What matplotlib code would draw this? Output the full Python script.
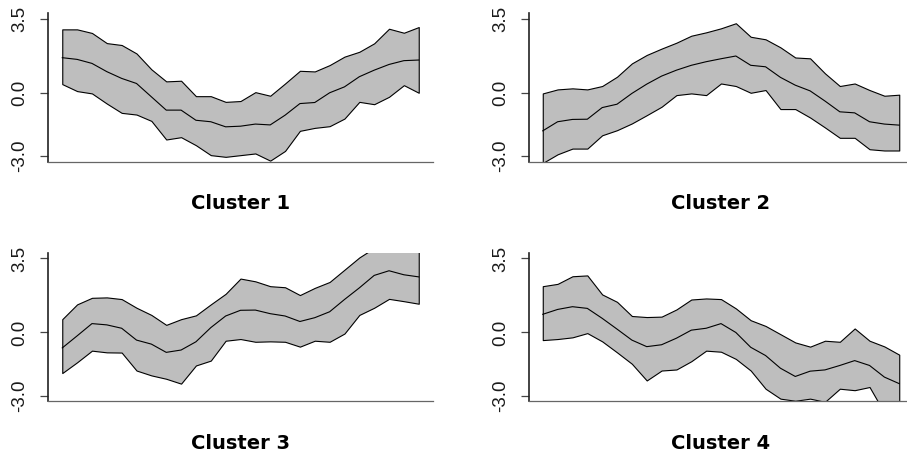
import matplotlib
matplotlib.use('Agg')
import matplotlib.pyplot as plt
import numpy as np

plt.rcParams['axes.unicode_minus'] = False

# 25 time points per cluster, mean profile with upper / lower band
x = np.arange(1, 26)

c1_up  = [3.00, 3.00, 2.83, 2.35, 2.26, 1.86, 1.11, 0.54, 0.57, -0.16, -0.16, -0.43, -0.39,
          0.03, -0.14, 0.44, 1.04, 1.01, 1.31, 1.71, 1.94, 2.34, 3.03, 2.84, 3.11]
c1_mid = [1.66, 1.58, 1.39, 1.00, 0.68, 0.44, -0.19, -0.82, -0.82, -1.30, -1.37, -1.61, -1.58,
          -1.48, -1.52, -1.06, -0.51, -0.46, 0.00, 0.28, 0.76, 1.07, 1.34, 1.52, 1.55]
c1_lo  = [0.41, 0.08, -0.03, -0.51, -0.95, -1.03, -1.33, -2.21, -2.10, -2.48, -2.95, -3.03, -2.95,
          -2.87, -3.21, -2.75, -1.80, -1.66, -1.58, -1.22, -0.43, -0.54, -0.19, 0.36, 0.00]

c2_up  = [-0.03, 0.16, 0.21, 0.16, 0.32, 0.76, 1.39, 1.79, 2.09, 2.37, 2.70, 2.86, 3.05,
          3.29, 2.65, 2.53, 2.15, 1.67, 1.63, 0.92, 0.32, 0.44, 0.13, -0.14, -0.09]
c2_mid = [-1.80, -1.37, -1.26, -1.25, -0.70, -0.54, -0.03, 0.41, 0.79, 1.07, 1.30, 1.47, 1.61,
          1.74, 1.30, 1.23, 0.73, 0.36, 0.09, -0.39, -0.90, -0.95, -1.37, -1.48, -1.53]
c2_lo  = [-3.32, -2.91, -2.64, -2.64, -2.01, -1.77, -1.45, -1.06, -0.66, -0.11, -0.03, -0.11, 0.44,
          0.32, 0.00, 0.13, -0.77, -0.77, -1.17, -1.64, -2.13, -2.13, -2.67, -2.73, -2.73]

c3_up  = [0.63, 1.33, 1.64, 1.66, 1.58, 1.17, 0.83, 0.36, 0.63, 0.81, 1.33, 1.83, 2.55,
          2.42, 2.19, 2.14, 1.77, 2.11, 2.39, 2.97, 3.55, 4.00, 4.20, 4.10, 4.00]
c3_mid = [-0.73, -0.16, 0.42, 0.36, 0.20, -0.36, -0.55, -0.94, -0.83, -0.44, 0.23, 0.78, 1.05,
          1.06, 0.89, 0.78, 0.52, 0.70, 0.98, 1.56, 2.11, 2.70, 2.92, 2.73, 2.63]
c3_lo  = [-1.92, -1.41, -0.86, -0.94, -0.95, -1.80, -2.03, -2.19, -2.42, -1.56, -1.33, -0.39, -0.31,
          -0.44, -0.42, -0.44, -0.67, -0.39, -0.44, -0.05, 0.83, 1.17, 1.59, 1.48, 1.36]

c4_up  = [2.19, 2.30, 2.66, 2.70, 1.80, 1.45, 0.78, 0.73, 0.75, 1.09, 1.56, 1.61, 1.58,
          1.14, 0.58, 0.31, -0.08, -0.47, -0.67, -0.39, -0.44, 0.19, -0.39, -0.66, -1.05]
c4_mid = [0.86, 1.09, 1.22, 1.14, 0.67, 0.16, -0.36, -0.67, -0.58, -0.27, 0.11, 0.20, 0.42,
          0.00, -0.70, -1.09, -1.69, -2.08, -1.83, -1.77, -1.56, -1.33, -1.56, -2.11, -2.42]
c4_lo  = [-0.36, -0.31, -0.23, -0.03, -0.42, -0.94, -1.48, -2.27, -1.80, -1.75, -1.36, -0.86, -0.91,
          -1.25, -1.80, -2.66, -3.13, -3.23, -3.13, -3.28, -2.66, -2.73, -2.58, -3.80, -3.60]

titles = ['Cluster 1', 'Cluster 2', 'Cluster 3', 'Cluster 4']
uppers = [c1_up, c2_up, c3_up, c4_up]
mids = [c1_mid, c2_mid, c3_mid, c4_mid]
lowers = [c1_lo, c2_lo, c3_lo, c4_lo]

ytick_vals = [-3.0, 0.0, 3.5]
ytick_labels = ['-3.0', '0.0', '3.5']

W, H = 907., 457.
fig = plt.figure(figsize=(W / 100, H / 100), dpi=100, facecolor='white')

# axes boxes in pixels: left, top
boxes = [(48, 13.3), (528.5, 13.3), (48, 253), (528.5, 253)]
aw, ah = 385., 148.4

tickfont = ['Liberation Sans Narrow', 'DejaVu Sans Condensed', 'Liberation Sans', 'DejaVu Sans']

for i in range(4):
    l, t = boxes[i]
    ax = fig.add_axes([l / W, (H - t - ah) / H, aw / W, ah / H])
    ax.fill_between(x, lowers[i], uppers[i], facecolor='#bebebe', edgecolor='black', linewidth=0.8)
    ax.plot(x, mids[i], color='black', linewidth=0.8)

    # R style 4% padding around xlim=(1,25), ylim=(-3,3.5)
    ax.set_xlim(1 - 0.04 * 24, 25 + 0.04 * 24)
    ax.set_ylim(-3.0 - 0.04 * 6.5, 3.5 + 0.04 * 6.5)

    ax.spines['top'].set_visible(False)
    ax.spines['right'].set_visible(False)
    ax.spines['left'].set_color('#222222')
    ax.spines['left'].set_linewidth(1.2)
    ax.spines['bottom'].set_color('#666666')
    ax.spines['bottom'].set_linewidth(0.9)

    ax.set_xticks([])
    ax.set_yticks(ytick_vals)
    ax.set_yticklabels(ytick_labels, rotation=90, va='center', ha='right',
                       family=tickfont, fontsize=13.5, color='#1a1a1a')
    ax.tick_params(axis='y', length=6, width=0.9, color='#444444', pad=8)

    ax.text(0.5, -0.283, titles[i], transform=ax.transAxes, ha='center', va='center',
            fontsize=14, fontweight='bold', family='DejaVu Sans')

fig.savefig('out.png', dpi=100, facecolor='white')
